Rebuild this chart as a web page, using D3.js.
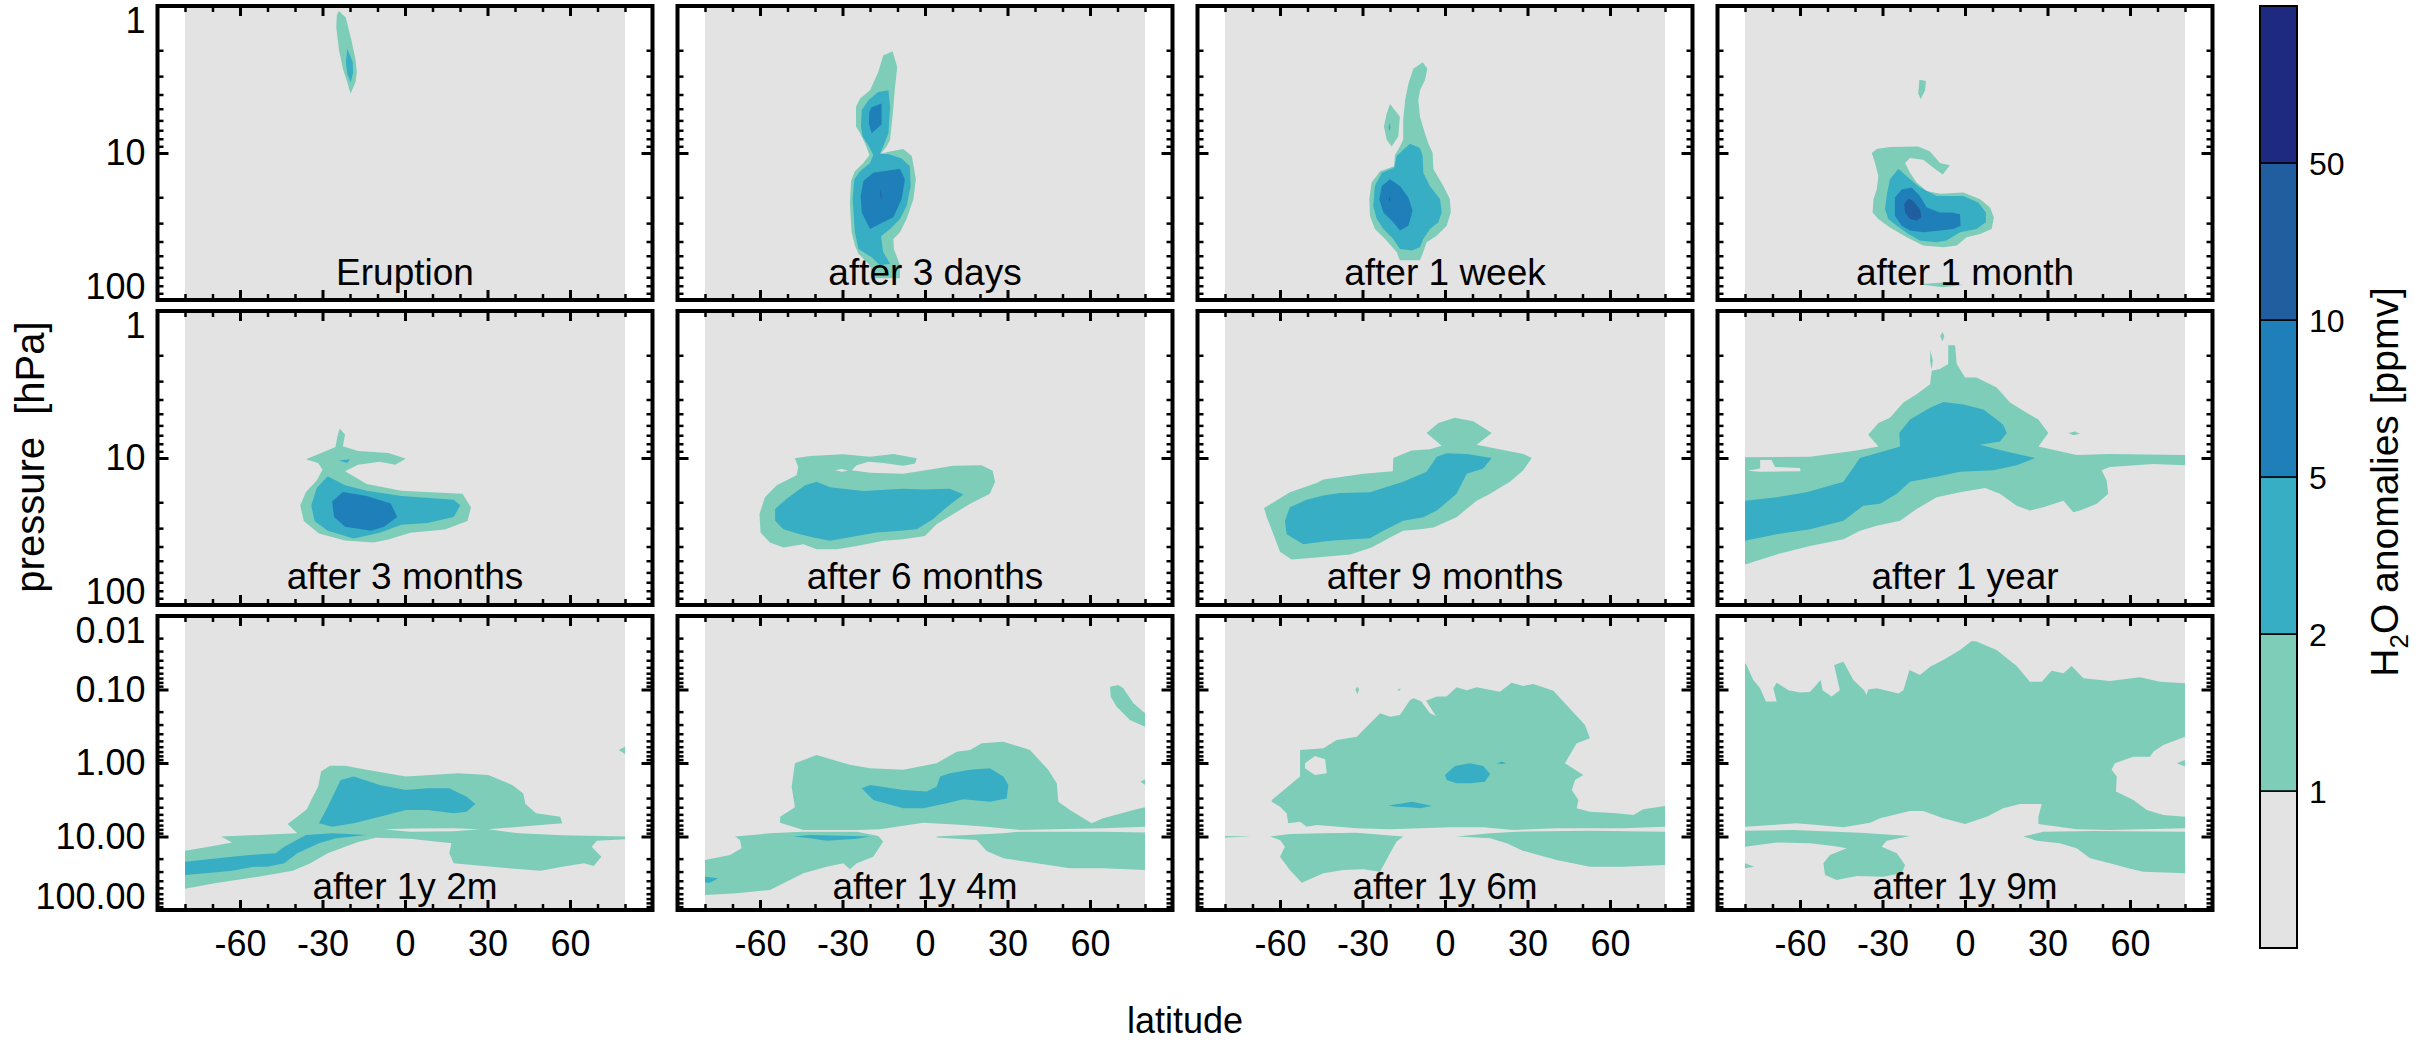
<!DOCTYPE html>
<html>
<head>
<meta charset="utf-8">
<script src="https://cdn.jsdelivr.net/npm/d3@7"></script>
<style>
  body { margin: 0; background: #fff; }
  svg { display: block; }
  text { font-family: "Liberation Sans", Arial, Helvetica, sans-serif; fill: #000; }
</style>
</head>
<body>
<svg id="chart" width="2418" height="1044"></svg>
<script>
// ---- contour levels (ppmv) and fill colours ----
const thresholds = [1, 2, 5, 10, 50];
const levelColors = ["#e3e3e3", "#7ecdb9", "#37aec4", "#1f80b9", "#215ea0", "#1e2a80"];
const colorbarLabels = ["1", "2", "5", "10", "50"];

// ---- axes ----
const latMajor = [-60, -30, 0, 30, 60];
const latMinor = [-80, -70, -50, -40, -20, -10, 10, 20, 40, 50, 70, 80];
const pMajorUpper = [1, 10, 100];
const pLabelsUpper = ["1", "10", "100"];
const pMinorUpper = [2, 3, 4, 5, 6, 7, 8, 9, 20, 30, 40, 50, 60, 70, 80, 90];
const pMajorLower = [0.01, 0.1, 1, 10, 100];
const pLabelsLower = ["0.01", "0.10", "1.00", "10.00", "100.00"];
const pMinorLower = [0.02, 0.03, 0.04, 0.05, 0.06, 0.07, 0.08, 0.09,
                     0.2, 0.3, 0.4, 0.5, 0.6, 0.7, 0.8, 0.9,
                     2, 3, 4, 5, 6, 7, 8, 9, 20, 30, 40, 50, 60, 70, 80, 90];

const panelTitles = ["Eruption", "after 3 days", "after 1 week", "after 1 month",
                     "after 3 months", "after 6 months", "after 9 months", "after 1 year",
                     "after 1y 2m", "after 1y 4m", "after 1y 6m", "after 1y 9m"];

// ---- H2O anomaly regions: [latitude, pressure hPa] outlines per contour level ----
const eruption = [
  { level: 1, rings: [[[-24,1.08],[-21.5,1.2],[-19.5,1.7],[-18,2.3],[-17.5,2.8],[-18,3.3],[-19.8,3.95],[-21,3.3],[-22.5,2.7],[-24,2.0],[-25,1.4],[-24.8,1.15]]] },
  { level: 2, rings: [[[-21,1.95],[-19,2.4],[-18.9,2.85],[-19.7,3.3],[-21,2.9],[-21.5,2.4]]] }
];

const after3days = [
  { level: 1, rings: [[[-15.2,2.17],[-11.8,2.03],[-10.1,2.6],[-10.9,3.55],[-11.8,5.66],[-12.7,8.13],[-13.9,9.0],[-16.1,10.1],[-12.7,9.75],[-7.9,9.4],[-4.8,10.5],[-3.3,15.1],[-4.2,20.6],[-6.7,28.1],[-9.1,34.6],[-11.5,38.4],[-11.3,44.9],[-9.1,58.1],[-9.1,71],[-18.8,71],[-20,58.1],[-24.2,48.4],[-25.5,42.6],[-26.7,34.6],[-27.3,22],[-26.9,15.5],[-25.5,13.3],[-22.4,11.7],[-20.2,10.3],[-21.8,8.57],[-23.6,7.33],[-25.1,6.61],[-25.1,4.85],[-23.6,4.26],[-20,3.74],[-17,2.81]]] },
  { level: 2, rings: [[[-17,3.84],[-13.3,3.74],[-12.7,4.85],[-13.3,7.33],[-15.2,9.02],[-16.4,10.1],[-13,10.2],[-8.5,10.9],[-5.5,12.3],[-5.2,16.8],[-6.7,22.9],[-9.1,28.1],[-12.7,32.9],[-16,36.8],[-15.2,47.1],[-12.7,56.7],[-16.4,58.1],[-19.4,51.2],[-24.2,44.9],[-25.5,34.6],[-26.3,20.6],[-25.7,15.1],[-23.6,13.3],[-20,11.7],[-18.8,10.3],[-20.4,9.02],[-22.7,7.73],[-23.3,6.61],[-23,5.11],[-20.6,4.37]]] },
  { level: 5, rings: [[[-19.5,4.9],[-15.8,4.6],[-15.8,6.4],[-19.4,7.33],[-20.4,6.3],[-20.3,5.3]]] },
  { level: 5, rings: [[[-22.4,15.5],[-18.8,13.6],[-9.1,12.8],[-7.3,15.1],[-8.5,20.6],[-11.5,27.4],[-15.2,29.6],[-20,32.9],[-23,25.4],[-23.4,19.6]]] },
  { level: 10, rings: [[[-16.3,17.5],[-15.9,19],[-15.8,21.5],[-16.2,19.5]]] }
];

const after1week = [
  { level: 1, rings: [[[-8.1,2.41],[-6.4,2.67],[-7.3,3.2],[-9.1,3.74],[-9.7,4.37],[-9.1,5.66],[-7.3,7.33],[-6.1,8.57],[-4.5,10],[-4.2,12.9],[-0.6,16.8],[1.8,20.6],[2.1,25.4],[0.6,31.2],[-3.0,36.5],[-6.7,40.4],[-7.9,47.2],[-9.1,53.7],[-16.4,53.7],[-17.6,47.2],[-21.8,38.4],[-25.5,32.9],[-27.3,26.7],[-27.5,20.6],[-26.7,15.9],[-23.6,13.3],[-18.5,12.3],[-18.2,10.3],[-16.4,9.02],[-15.2,8.13],[-15.2,5.96],[-14.5,4.37],[-13.3,3.37],[-11.5,2.67]]] },
  { level: 1, rings: [[[-20,4.65],[-16.4,5.66],[-17,7.73],[-19.4,9.02],[-21.2,8.13],[-22.2,6.61],[-21.2,5.38]]] },
  { level: 2, rings: [[[-12.7,8.65],[-9.1,9.25],[-8.1,10.5],[-7.9,13.6],[-5.5,16.8],[-1.8,20.6],[-1.2,25.4],[-2.4,29.6],[-5.5,32.9],[-7.9,38.4],[-9.1,43.7],[-12.1,46],[-16.4,44.9],[-18.8,38.4],[-22.4,32.9],[-24.8,28.1],[-26.1,22.9],[-25.5,16.8],[-23,13.6],[-18.5,12.6],[-17.6,10.5],[-15.2,9.5]]] },
  { level: 2, rings: [[[-20.3,6.2],[-19.8,6.7],[-20.2,7.1],[-20.5,6.7]]] },
  { level: 5, rings: [[[-20,15.1],[-16.4,16.8],[-13.3,20.1],[-11.8,24.7],[-13.3,31.2],[-16.4,33.7],[-18.8,29.6],[-22.4,25.4],[-23.9,20.6],[-23,16.8]]] },
  { level: 10, rings: [[[-20.2,19.5],[-19.9,20.6],[-20.1,21.5],[-20.4,20.6]]] }
];

const after1month = [
  { level: 1, rings: [[[-16.6,3.17],[-14.2,3.24],[-14.5,3.74],[-16.1,4.3],[-17,3.94]]] },
  { level: 1, rings: [[[-33.9,10],[-32.1,9.4],[-27.3,9.1],[-17,9.02],[-12.7,9.75],[-9.1,11.7],[-5.5,12.1],[-8.1,14],[-11.5,12.6],[-15.2,11.1],[-20,10.8],[-21.8,11.7],[-20,13.6],[-17.6,15.9],[-13.9,18.1],[-9.1,18.9],[-0.6,18.6],[5.5,20.6],[9.1,23.5],[10.5,27.4],[9.7,32.9],[5.5,35.5],[0.6,37.4],[-3.0,42.6],[-7.9,43.7],[-15.2,42.6],[-21.2,37.4],[-27.3,32.1],[-31.5,28.1],[-33.6,25.4],[-33.3,20.6],[-32.1,17.7],[-31.5,14.4],[-32.7,11.7]]] },
  { level: 1, rings: [[[-17,78],[-8,76],[-0.6,79],[-8,82]]] },
  { level: 2, rings: [[[-27.3,15.1],[-24.2,12.8],[-21.2,14.4],[-16.4,17.2],[-10.3,19.6],[-0.6,19.6],[4.8,21.7],[7.6,25.4],[7.6,29.6],[4.2,32.9],[-1.8,34.6],[-6.7,39.4],[-10.3,40.4],[-16.4,39.4],[-20.6,35.5],[-24.8,31.2],[-27.9,28.1],[-29.1,24.1],[-28.5,19.6]]] },
  { level: 5, rings: [[[-25.5,20.1],[-23,17.7],[-19.4,17.2],[-16.4,19.6],[-13.9,23.5],[-9.1,25.4],[-4.8,25.4],[-1.8,26.1],[-1.6,31.2],[-4.2,32.9],[-9.1,33.7],[-15.2,34.6],[-20,33.7],[-23,31.2],[-25.5,26.7]]] },
  { level: 10, rings: [[[-20.6,20.4],[-18.8,21.2],[-16.4,24.1],[-15.8,27.4],[-17.6,28.9],[-20,28.1],[-21.8,25.4],[-22.1,22.3]]] }
];

const after3months = [
  { level: 1, rings: [[[-38.1,21],[-36,17],[-32.1,14.2],[-30,12],[-31.6,10.8],[-36,10.2],[-30.5,9.24],[-25.3,8.43],[-24.5,7.02],[-23.7,6.3],[-21.8,6.94],[-22.6,8.33],[-17.1,8.96],[-6,9.24],[0.3,10.1],[-3.6,11.1],[-9.2,10.6],[-17.1,11.1],[-21.8,12.3],[-13.9,15],[-1.3,16.7],[20.9,17.5],[24,21.7],[22.7,26.8],[14.5,30.7],[1.9,32.2],[-6,35.9],[-11.5,37.5],[-21.8,36.4],[-31.3,32.6],[-36.8,26.8]]] },
  { level: 2, rings: [[[-24,10.4],[-20,10.2],[-21,10.8]]] },
  { level: 2, rings: [[[-34.1,21],[-32.1,16],[-28.1,13.3],[-21.8,15.3],[-13.9,16.7],[-1.3,18.1],[17.7,19.2],[20.1,21],[17.7,25.2],[8.2,27.7],[-1.3,28.5],[-9.2,32.2],[-18.6,35.3],[-28.1,31.2],[-32.9,26.8]]] },
  { level: 5, rings: [[[-26.5,19.8],[-22.6,17],[-13.9,18.1],[-5.2,20.4],[-2.8,25.2],[-7.6,29.4],[-12.3,31.2],[-21.8,29.4],[-25.8,25.2]]] }
];

const after6months = [
  { level: 1, rings: [
    [[-47.3,10.05],[-41.8,9.69],[-29.7,9.43],[-20,9.79],[-11.5,9.38],[-3.0,10.05],[-3.6,10.9],[-7.9,11.3],[-15.2,10.8],[-20.6,10.6],[-24.8,11.2],[-26.7,12.1],[-20,12.6],[-7.9,12.8],[4.2,11.8],[10.3,11.3],[20.6,11.2],[24.6,12.2],[25.5,14.5],[23.6,17.5],[16.4,20.5],[10.3,24],[4.2,28.2],[0,33.9],[-7.9,35.7],[-15.2,36.6],[-24.8,39.7],[-32.1,41.8],[-39.4,41.8],[-44.2,38.6],[-51.5,40.7],[-56.4,37.6],[-59.8,32.1],[-60.2,24],[-58.2,18.5],[-53.9,15.3],[-46.7,13.1],[-46.1,11.5]],
    [[-32.7,12.1],[-30.3,11.9],[-28,12.2],[-30.3,12.4]]
  ] },
  { level: 2, rings: [[[-54.5,22.2],[-50.3,18.9],[-43.6,15.3],[-39.4,14.5],[-34.5,15.8],[-22.4,16.8],[-7.9,16.2],[-0.6,16.4],[9.1,16.2],[13.9,17.7],[7.9,21.6],[3.0,26],[-3,30.5],[-9.1,31.3],[-17.6,32.1],[-24.8,33.9],[-34.5,36.6],[-40.6,34.8],[-45.5,33],[-51.5,30.5],[-54.5,26.7]]] }
];

const after9months = [
  { level: 1, rings: [[[-65.8,21.9],[-56.4,17.1],[-46.7,14.8],[-44.2,14],[-29.7,12.8],[-19,12.3],[-18.8,10],[-12.1,8.9],[-5.5,8.72],[-1.2,8.27],[-6.7,6.77],[-2.4,5.77],[3.6,5.33],[10.3,5.62],[17,6.77],[11.5,8.14],[28.5,9.38],[31.5,10],[28.5,12.1],[23.6,14.5],[16.4,17.5],[11.5,19.5],[4.2,25.3],[-4.2,29.7],[-9.1,30.5],[-15.2,31.3],[-20,34.8],[-26.7,40.7],[-34.5,45.3],[-47.9,47.7],[-55.8,49],[-60,43.4],[-62.4,33],[-64.8,25.3]]] },
  { level: 2, rings: [[[-58.2,26.7],[-56.4,21.6],[-50.3,19.2],[-44.2,18],[-38.2,17.3],[-27.3,17.1],[-15.2,14.5],[-6.7,12.4],[-3,9.79],[0.6,9.29],[7.9,9.38],[17,10],[13.9,11.8],[7.9,12.8],[4.2,17.5],[-3,22.8],[-7.9,25.3],[-15.2,26.7],[-22.4,31.3],[-27.3,35.2],[-39.4,36.3],[-44.2,37],[-51.5,38.6],[-57.6,33]]] }
];

const after1year = [
  { level: 1, rings: [[[-8.2,1.39],[-7.5,1.48],[-8.2,1.61],[-9,1.48]]] },
  { level: 1, rings: [[[-12.6,1.85],[-11.7,2.17],[-12.1,2.5],[-12.7,2.2]]] },
  { level: 1, rings: [[[37.6,6.77],[40,6.6],[41.8,6.85],[39.4,7.0]]] },
  { level: 1, rings: [
    [[-80,9.9],[-56.4,9.79],[-39.4,8.9],[-31.5,8.36],[-35.2,6.95],[-31.5,5.77],[-27.3,5.33],[-22.4,4.2],[-17.6,3.69],[-12.7,3.15],[-12.1,2.55],[-9.1,2.48],[-6.1,2.29],[-6.1,1.71],[-3.6,1.71],[-3,2.29],[0,2.83],[4.2,2.83],[11.5,3.32],[16.4,4.2],[22.4,4.93],[26.7,5.48],[30.3,6.77],[26.7,8.36],[40.6,9.53],[52.7,9.38],[80,9.53],[80,11.2],[68.5,11],[52.7,11.5],[49.7,12.1],[51.5,14.2],[52.1,17.5],[47.9,20.5],[41.8,22.8],[39.4,23.4],[35.8,19.5],[28.5,21.6],[23.6,22.8],[18.8,21.1],[12.7,17.5],[7.3,16],[-1.8,17.1],[-10.3,18.5],[-17.6,22.2],[-23.6,26.7],[-32.1,28.9],[-38.2,31.3],[-44.2,35.7],[-56.4,39.7],[-68.5,45.3],[-80,53]],
    [[-74.5,10.3],[-70.3,10.3],[-69.1,11.5],[-60,11.7],[-59.8,12.3],[-74.5,12.4],[-79,12.2],[-74.5,11.8]]
  ] },
  { level: 2, rings: [[[-80,19.5],[-68.5,18.5],[-57.6,17.1],[-44.2,14.5],[-38.2,10],[-23.6,8.36],[-23.9,6.77],[-20,5.48],[-12.7,4.55],[-7.9,4.16],[-0.6,4.32],[6.7,4.67],[11.5,5.48],[13.9,5.93],[15.2,6.77],[12.7,7.72],[5.5,8.14],[12.7,8.81],[20.6,9.53],[25.5,10],[18.8,11.2],[10.3,12.1],[-1.8,12.4],[-10.3,13.4],[-20,14.5],[-24.8,17.5],[-30.9,20.5],[-37,21.1],[-44.2,26.7],[-56.4,30.5],[-68.5,33],[-80,36.6]]] }
];

const after1y2m = [
  { level: 1, rings: [[[77.7,0.665],[80,0.6],[80,0.755]]] },
  { level: 1, rings: [
    [[-80,15.6],[-72.4,14],[-62.9,12.1],[-66.8,10],[-53.4,9.55],[-39.2,9.06],[-42.7,6.76],[-39.2,5.37],[-35.7,4.27],[-34.1,3.19],[-31.6,2.1],[-30.5,1.31],[-27.3,1.09],[-21.8,1.09],[-13.9,1.24],[0.3,1.53],[19.3,1.38],[30.3,1.46],[39,1.99],[43,2.59],[43.8,3.61],[47.7,4.84],[56.4,5.37],[57.2,6.62],[49.3,6.98],[30.3,7.98],[41.4,9.06],[57.2,9.64],[80,10],[80,10.9],[69.8,11.4],[67.9,13.8],[71.4,18.8],[68.6,25.2],[65.1,23.2],[57.2,25.7],[49.3,29.2],[33.5,26.3],[17.7,23.2],[16.1,16.9],[16.9,12.4],[1.9,10.7],[-10.7,10.4],[-17.1,11.9],[-21.8,13.8],[-28.1,16.9],[-34.4,23.2],[-40.8,29.2],[-53.4,35.2],[-69.2,43.3],[-80,51.3]],
    [[-7.6,7.98],[1.9,7.81],[17.7,7.74],[27.2,7.98],[17.7,8.5],[1.9,8.6]]
  ] },
  { level: 2, rings: [[[-31.3,6.62],[-28.1,3.93],[-23.4,1.7],[-18.6,1.53],[-9.2,1.99],[0.3,2.33],[8.2,2.21],[16.1,2.21],[22.4,2.87],[25.6,3.61],[22.4,4.59],[17.7,4.84],[8.2,4.36],[0.3,4.36],[-9.2,5.37],[-18.6,6.62],[-26.5,7.35]]] },
  { level: 2, rings: [[[-80,22],[-72.4,20.5],[-62.9,18.8],[-56.6,17.9],[-47.1,16.9],[-43.9,13.8],[-36,9.55],[-26.5,9.06],[-13.9,9.55],[-25,10.6],[-31.3,12.4],[-39.2,16.9],[-43.9,23.2],[-50.2,25.7],[-55,25.7],[-62.9,29.2],[-72.4,31.7],[-80,33.4]]] }
];

const after1y4m = [
  { level: 1, rings: [[[-47.3,1.01],[-39.4,0.778],[-27.3,1.06],[-20,1.18],[-7.9,1.24],[4.2,1.01],[11.5,0.701],[16.4,0.665],[20.6,0.54],[28.5,0.513],[38.2,0.665],[44.8,1.24],[47.9,1.89],[48.5,3.36],[52.7,4.36],[60.6,6.62],[64.8,5.66],[75.8,4.36],[80,4.01],[80,7.35],[64.8,7.74],[46.7,7.98],[34.5,8.16],[22.4,7.35],[13.9,6.98],[-0.6,6.49],[-10.3,7.35],[-16.4,7.98],[-24.8,8.16],[-44.2,8.16],[-52.7,6.49],[-52.7,5.37],[-47.3,4.01],[-48.5,2.1]]] },
  { level: 1, rings: [[[-69.1,10],[-56.4,9.06],[-44.2,8.6],[-24.8,8.6],[-17,9.84],[-15.2,11.7],[-18.8,18.8],[-24.8,23.2],[-27.3,28],[-29.7,23.2],[-35.8,25.7],[-44.2,31.7],[-56.4,53.5],[-68.5,59.3],[-80,62.5],[-80,20.9],[-70.9,17.9],[-66.7,14.5],[-67.3,11.2]]] },
  { level: 1, rings: [[[4.2,10],[28.5,9.06],[34.5,8.6],[64.8,8.6],[80,8.8],[80,28.6],[64.8,27.1],[52.7,27.1],[40.6,23.2],[28.5,19.8],[22.4,15.7],[18.8,11.2],[4.2,10.3]]] },
  { level: 1, rings: [[[67.3,0.0914],[70.3,0.0868],[72.1,0.0964],[75.8,0.154],[80,0.211],[80,0.321],[74.5,0.26],[69.7,0.171],[67.5,0.125]]] },
  { level: 1, rings: [[[78.4,1.8],[80,1.67],[80,1.99]]] },
  { level: 2, rings: [[[-23,2.21],[-20,1.99],[-7.9,2.33],[0.6,2.45],[4.2,2.1],[5.5,1.53],[9.1,1.38],[16.4,1.24],[23.6,1.18],[28.5,1.53],[30.3,1.99],[29.7,3.03],[23.6,3.36],[13.9,3.12],[7.9,3.54],[-0.6,4.14],[-7.9,4.14],[-18.8,3.19]]] },
  { level: 2, rings: [[[-47.9,10],[-41.8,9.55],[-20,10],[-24.8,10.7],[-35.8,11.4],[-41.8,10.6]]] },
  { level: 2, rings: [[[-80,35.2],[-75.2,37.1],[-78.2,42.5],[-80,42.5]]] }
];

const after1y6m = [
  { level: 1, rings: [
    [[-63,3.19],[-56.4,1.99],[-52.7,1.53],[-52.7,0.665],[-44.2,0.631],[-39.4,0.486],[-32.1,0.438],[-29.7,0.356],[-23.6,0.211],[-20,0.234],[-16.4,0.222],[-12.7,0.139],[-11.3,0.132],[-8.6,0.146],[-5.5,0.211],[-3.3,0.23],[-6.9,0.142],[-3,0.125],[0.6,0.125],[4.2,0.0935],[7.9,0.102],[11.5,0.0935],[20,0.107],[24.2,0.0807],[28.5,0.0896],[32.1,0.0841],[39.4,0.104],[44.2,0.163],[50.9,0.304],[52.7,0.461],[47.9,0.54],[43.6,1.01],[50.3,1.46],[47.3,1.7],[46.1,2.33],[48.5,3.19],[47.9,4.14],[52.7,4.59],[62.4,4.84],[68.5,5.11],[72.1,4.27],[80,3.85],[80,7.35],[64.8,7.74],[40.6,7.74],[24.8,8.16],[13.9,7.5],[1.8,7.5],[-20,7.98],[-32.1,7.74],[-46.7,6.98],[-50.3,7.35],[-52.7,6.28],[-57,6.62],[-57.6,4.84],[-60,3.93],[-63,3.36]],
    [[-50.9,1.01],[-47.3,0.804],[-43.6,0.891],[-43,1.38],[-47.3,1.46],[-50.9,1.18]]
  ] },
  { level: 1, rings: [[[-32.6,0.1],[-31.9,0.092],[-31.2,0.1],[-31.9,0.115]]] },
  { level: 1, rings: [[[-17.2,0.1],[-16,0.097],[-16.8,0.106]]] },
  { level: 1, rings: [[[-80,9.84],[-70.3,10],[-80,10.3]]] },
  { level: 1, rings: [[[-63.6,10],[-56.4,9.25],[-44.2,9.06],[-32.1,8.86],[-15.2,10],[-17.6,11.7],[-20,16.9],[-23.6,30.1],[-29.7,28],[-37,28.6],[-44.2,31.7],[-52.1,42.5],[-56.4,28.6],[-60,18.8],[-58.2,13.8],[-60,11.2]]] },
  { level: 1, rings: [[[4.2,10],[16.4,9.06],[26.1,8.6],[52.7,8.34],[80,8.6],[80,24.4],[64.8,25.7],[52.7,25.7],[40.6,20.9],[28.5,15.7],[22.4,12.4],[16.4,10.6]]] },
  { level: 2, rings: [[[0,1.46],[3.6,1.1],[9.1,1.01],[13.9,1.1],[16.4,1.41],[14.5,1.8],[9.1,1.89],[4.2,1.89],[0.6,1.7]]] },
  { level: 2, rings: [[[18.8,1.01],[20.6,0.96],[22.4,1.01],[20.6,1.03]]] },
  { level: 2, rings: [[[-20.6,3.8],[-15.2,3.54],[-12.1,3.36],[-7.9,3.61],[-4.8,3.85],[-9.1,4.14],[-12.7,4.01],[-17.6,3.93]]] }
];

const after1y9m = [
  { level: 1, rings: [[[-80,0.044],[-79.4,0.0464],[-77,0.0743],[-74.5,0.0964],[-72.4,0.146],[-68.5,0.146],[-69.7,0.0964],[-68.5,0.0807],[-64.2,0.102],[-60,0.11],[-56.4,0.108],[-52.5,0.0743],[-51.8,0.102],[-48.5,0.125],[-45.5,0.102],[-47.6,0.0464],[-44.2,0.0418],[-40.6,0.0743],[-36.7,0.102],[-35.8,0.119],[-35.2,0.1],[-32.1,0.0964],[-24.2,0.113],[-22.4,0.102],[-20.2,0.0543],[-16.4,0.0635],[-12.7,0.0489],[-7.9,0.0397],[-1.8,0.029],[2.4,0.0219],[4.2,0.0223],[11.5,0.029],[18.8,0.0479],[23.6,0.0782],[27.9,0.0782],[31.5,0.0555],[35.8,0.0603],[38.8,0.0479],[43,0.0705],[52.7,0.0766],[63.6,0.0683],[70.9,0.0782],[80,0.0824],[80,0.438],[72.1,0.569],[68.5,0.701],[67.3,0.82],[61.2,0.82],[54.5,1.01],[53.3,1.24],[55.2,1.53],[54.9,2.45],[61.2,3.19],[66.1,4.36],[72.1,5.11],[80,5.37],[80,7.74],[52.7,8.16],[40.6,7.98],[26.7,6.76],[26.7,5.37],[27.9,3.61],[20,3.61],[13.9,4.14],[7.9,5.37],[0,6.76],[-7.9,5.66],[-15.2,4.5],[-20,4.5],[-30.9,5.66],[-34.5,6.49],[-44.2,7.5],[-61.2,6.62],[-80,7.35]]] },
  { level: 1, rings: [[[77,1.01],[80,0.91],[80,1.12]]] },
  { level: 1, rings: [[[-80,8.34],[-62.4,8.16],[-38.2,8.86],[-20,9.84],[-28.5,11.4],[-30.3,13.8],[-24.8,16.9],[-21.8,24.4],[-23,31.7],[-29.7,35.2],[-39.4,34.4],[-46.7,39],[-50.9,33.4],[-51.5,23.2],[-49.1,17.9],[-43,14.5],[-47.9,13.5],[-56.4,12.4],[-68.5,12.1],[-80,13.8]]] },
  { level: 1, rings: [[[-80,23.2],[-76.7,25.7],[-80,27.1]]] },
  { level: 1, rings: [[[21.2,10],[28.5,8.6],[46.7,8.4],[80,8.6],[80,31.7],[64.8,30.1],[59.4,27.1],[52.7,23.2],[45.5,19.8],[40.6,14.5],[34.5,12.4],[26.1,11.4]]] }
];

const panelFields = [eruption, after3days, after1week, after1month,
                     after3months, after6months, after9months, after1year,
                     after1y2m, after1y4m, after1y6m, after1y9m];

// ---- layout ----
const colLeft = [157.5, 677.5, 1197.5, 1717.5];
const rowTop = [6, 311, 616];
const panelW = 495, panelH = 294;
const titleOffset = [15, 16, 11];
const fontFamily = '"Liberation Sans", Arial, Helvetica, sans-serif';

const svg = d3.select("#chart");
const color = d3.scaleThreshold().domain(thresholds).range(levelColors);

function styleAxis(g, width) {
  g.select(".domain").remove();
  g.selectAll(".tick line").attr("stroke", "#000").attr("stroke-width", width);
  g.selectAll(".tick text").attr("font-family", fontFamily).attr("font-size", 36).attr("fill", "#000");
}

panelFields.forEach((field, i) => {
  const r = Math.floor(i / 4), c = i % 4;
  const lower = r === 2;
  const x = d3.scaleLinear().domain([-90, 90]).range([0, panelW]);
  const y = d3.scaleLog().domain(lower ? [0.01, 100] : [1, 100]).range([0, panelH]);
  const g = svg.append("g").attr("transform", `translate(${colLeft[c]},${rowTop[r]})`);

  const clipId = "clip" + i;
  g.append("clipPath").attr("id", clipId)
    .append("rect").attr("width", panelW).attr("height", panelH);

  const plot = g.append("g").attr("clip-path", `url(#${clipId})`);
  plot.append("rect").attr("width", panelW).attr("height", panelH).attr("fill", "#fff");
  plot.append("rect").attr("x", x(-80)).attr("width", x(80) - x(-80))
    .attr("height", panelH).attr("fill", levelColors[0]);

  const line = d3.line().x(d => x(d[0])).y(d => y(d[1]));
  field.forEach(band => {
    plot.append("path")
      .attr("d", band.rings.map(ring => line(ring) + "Z").join(""))
      .attr("fill", color(band.level))
      .attr("fill-rule", "evenodd");
  });

  g.append("text")
    .attr("x", panelW / 2).attr("y", panelH - titleOffset[r])
    .attr("text-anchor", "middle").attr("font-size", 37)
    .text(panelTitles[i]);

  // latitude ticks, top and bottom, pointing inward
  g.append("g").attr("transform", `translate(0,${panelH})`)
    .call(d3.axisBottom(x).tickValues(latMajor).tickSize(-10).tickPadding(20)
      .tickFormat(lower ? d => d : () => ""))
    .call(a => styleAxis(a, 3));
  g.append("g").attr("transform", `translate(0,${panelH})`)
    .call(d3.axisBottom(x).tickValues(latMinor).tickSize(-6).tickFormat(() => ""))
    .call(a => styleAxis(a, 2.5));
  g.append("g")
    .call(d3.axisTop(x).tickValues(latMajor).tickSize(-10).tickFormat(() => ""))
    .call(a => styleAxis(a, 3));
  g.append("g")
    .call(d3.axisTop(x).tickValues(latMinor).tickSize(-6).tickFormat(() => ""))
    .call(a => styleAxis(a, 2.5));

  // pressure ticks, left and right
  const pMajor = lower ? pMajorLower : pMajorUpper;
  const pMinor = lower ? pMinorLower : pMinorUpper;
  const pLabels = lower ? pLabelsLower : pLabelsUpper;
  const left = g.append("g")
    .call(d3.axisLeft(y).tickValues(pMajor).tickSize(-11).tickPadding(12)
      .tickFormat(c === 0 ? (d, k) => pLabels[k] : () => ""))
    .call(a => styleAxis(a, 3));
  if (c === 0) {
    const labels = left.selectAll(".tick text");
    const n = labels.size();
    labels.attr("y", (d, k) => k === 0 ? 15 : (k === n - 1 ? -13 : 0));
  }
  g.append("g")
    .call(d3.axisLeft(y).tickValues(pMinor).tickSize(-6).tickFormat(() => ""))
    .call(a => styleAxis(a, 2.5));
  g.append("g").attr("transform", `translate(${panelW},0)`)
    .call(d3.axisRight(y).tickValues(pMajor).tickSize(-11).tickFormat(() => ""))
    .call(a => styleAxis(a, 3));
  g.append("g").attr("transform", `translate(${panelW},0)`)
    .call(d3.axisRight(y).tickValues(pMinor).tickSize(-6).tickFormat(() => ""))
    .call(a => styleAxis(a, 2.5));

  g.append("rect").attr("width", panelW).attr("height", panelH)
    .attr("fill", "none").attr("stroke", "#000").attr("stroke-width", 4);
});

// ---- axis titles ----
svg.append("text")
  .attr("transform", "translate(44,457) rotate(-90)")
  .attr("text-anchor", "middle").attr("font-size", 40)
  .attr("xml:space", "preserve").style("white-space", "pre")
  .text("pressure  [hPa]");

svg.append("text")
  .attr("x", (colLeft[0] + colLeft[3] + panelW) / 2).attr("y", 1033)
  .attr("text-anchor", "middle").attr("font-size", 36)
  .text("latitude");

// ---- colour bar ----
const cbX = 2260, cbW = 37, cbTop = 6, cbBottom = 948;
const cb = d3.scaleLinear().domain([0, levelColors.length]).range([cbBottom, cbTop]);
const cbg = svg.append("g");
cbg.selectAll("rect.seg").data(levelColors).join("rect")
  .attr("class", "seg")
  .attr("x", cbX).attr("width", cbW)
  .attr("y", (d, k) => cb(k + 1)).attr("height", (d, k) => cb(k) - cb(k + 1))
  .attr("fill", d => d).attr("stroke", "#000").attr("stroke-width", 1.5);
cbg.append("rect").attr("x", cbX).attr("y", cbTop).attr("width", cbW).attr("height", cbBottom - cbTop)
  .attr("fill", "none").attr("stroke", "#000").attr("stroke-width", 2);
cbg.selectAll("text").data(colorbarLabels).join("text")
  .attr("x", cbX + cbW + 12).attr("y", (d, k) => cb(k + 1)).attr("dy", "0.36em")
  .attr("font-size", 32).text(d => d);

const cbTitle = svg.append("text")
  .attr("transform", "translate(2398,482) rotate(-90)")
  .attr("text-anchor", "middle").attr("font-size", 39);
cbTitle.append("tspan").text("H");
cbTitle.append("tspan").attr("font-size", 26).attr("dy", 10).text("2");
cbTitle.append("tspan").attr("dy", -10).text("O anomalies [ppmv]");
</script>
</body>
</html>
